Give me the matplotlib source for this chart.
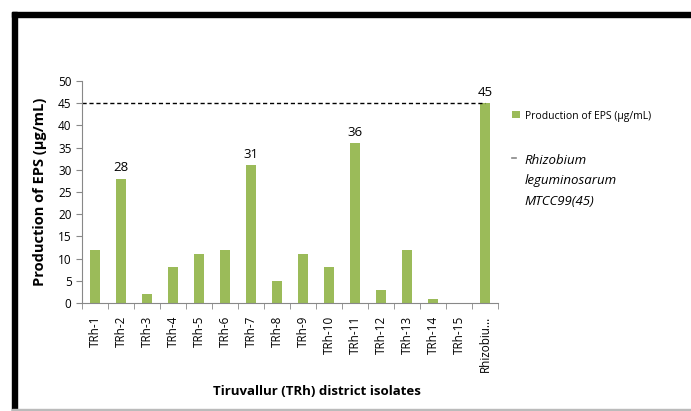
import numpy as np
import matplotlib
matplotlib.use('Agg')
import matplotlib.pyplot as plt
from matplotlib.lines import Line2D
from matplotlib.patches import Rectangle

isolates = ['TRh-1', 'TRh-2', 'TRh-3', 'TRh-4', 'TRh-5', 'TRh-6', 'TRh-7', 'TRh-8',
            'TRh-9', 'TRh-10', 'TRh-11', 'TRh-12', 'TRh-13', 'TRh-14', 'TRh-15', 'Rhizobiu...']
eps = [12, 28, 2, 8, 11, 12, 31, 5, 11, 8, 36, 3, 12, 1, 0, 45]
labelled = ['TRh-2', 'TRh-7', 'TRh-11', 'Rhizobiu...']
ref_value = 45

plt.rcParams['font.family'] = ['Open Sans', 'DejaVu Sans']
green = '#9BBB59'
grey = '#888888'

fig = plt.figure(figsize=(6.91, 4.11), dpi=100)
ax = fig.add_axes([0.1187, 0.2628, 0.602, 0.5402])

x = np.arange(len(isolates))
bars = ax.bar(x, eps, width=0.36, color=green)
for xi, name, v in zip(x, isolates, eps):
    if name in labelled:
        ax.text(xi, v + 1.0, str(v), ha='center', va='bottom', fontsize=9.5)

ax.plot([-0.5, x[-1]], [ref_value, ref_value], ls=(0, (3, 2)), color='black', lw=1)

ax.set_xlim(-0.5, len(isolates) - 0.5)
ax.set_ylim(0, 50)
ax.set_yticks(range(0, 51, 5))
ax.set_xticks(x)
ax.set_xticklabels(isolates, rotation=90, fontsize=8.5)
ax.set_xticks(np.arange(-0.5, len(isolates), 1), minor=True)
ax.tick_params(axis='x', which='major', length=0, pad=9)
ax.tick_params(axis='x', which='minor', length=4, color=grey)
ax.tick_params(axis='y', length=4, color=grey, labelsize=8.5)
for s in ['top', 'right']:
    ax.spines[s].set_visible(False)
for s in ['left', 'bottom']:
    ax.spines[s].set_color(grey)

ax.set_ylabel('Production of EPS (µg/mL)', fontsize=10.5, fontweight='bold', labelpad=8)
ax.set_xlabel('Tiruvallur (TRh) district isolates', fontsize=9.5, fontweight='bold', labelpad=6)
ax.xaxis.set_label_coords(0.565, -0.37)

leg1 = fig.legend(handles=[bars], labels=['Production of EPS (µg/mL)'],
                  loc='center left', bbox_to_anchor=(503/691, 1 - 116/411), frameon=False,
                  fontsize=7.5, handlelength=0.7, handleheight=0.7, handletextpad=0.5)
leg2 = fig.legend(handles=[Line2D([0], [0], color=grey, lw=1.2)],
                  labels=['Rhizobium\nleguminosarum\nMTCC99(45)'],
                  loc='upper left', bbox_to_anchor=(500/691, 1 - 142/411), frameon=False,
                  prop={'style': 'italic', 'size': 9.5}, handlelength=0.35,
                  handletextpad=0.6)
leg2.get_texts()[0].set_linespacing(1.75)
# put the dash at the first line of the label, as in the reference
for col in leg2._legend_handle_box.get_children():
    for item in col.get_children():
        item.align = 'top'

# outer frame
fig.patches.append(Rectangle((12/691, 0), 5/691, 1 - 12/411, transform=fig.transFigure,
                             color='black', zorder=10))
fig.patches.append(Rectangle((12/691, 1 - 17/411), 1, 5/411, transform=fig.transFigure,
                             color='black', zorder=10))
fig.patches.append(Rectangle((12/691, 0), 1, 2/411, transform=fig.transFigure,
                             color='#bbbbbb', zorder=10))

fig.savefig('out.png', dpi=100)
